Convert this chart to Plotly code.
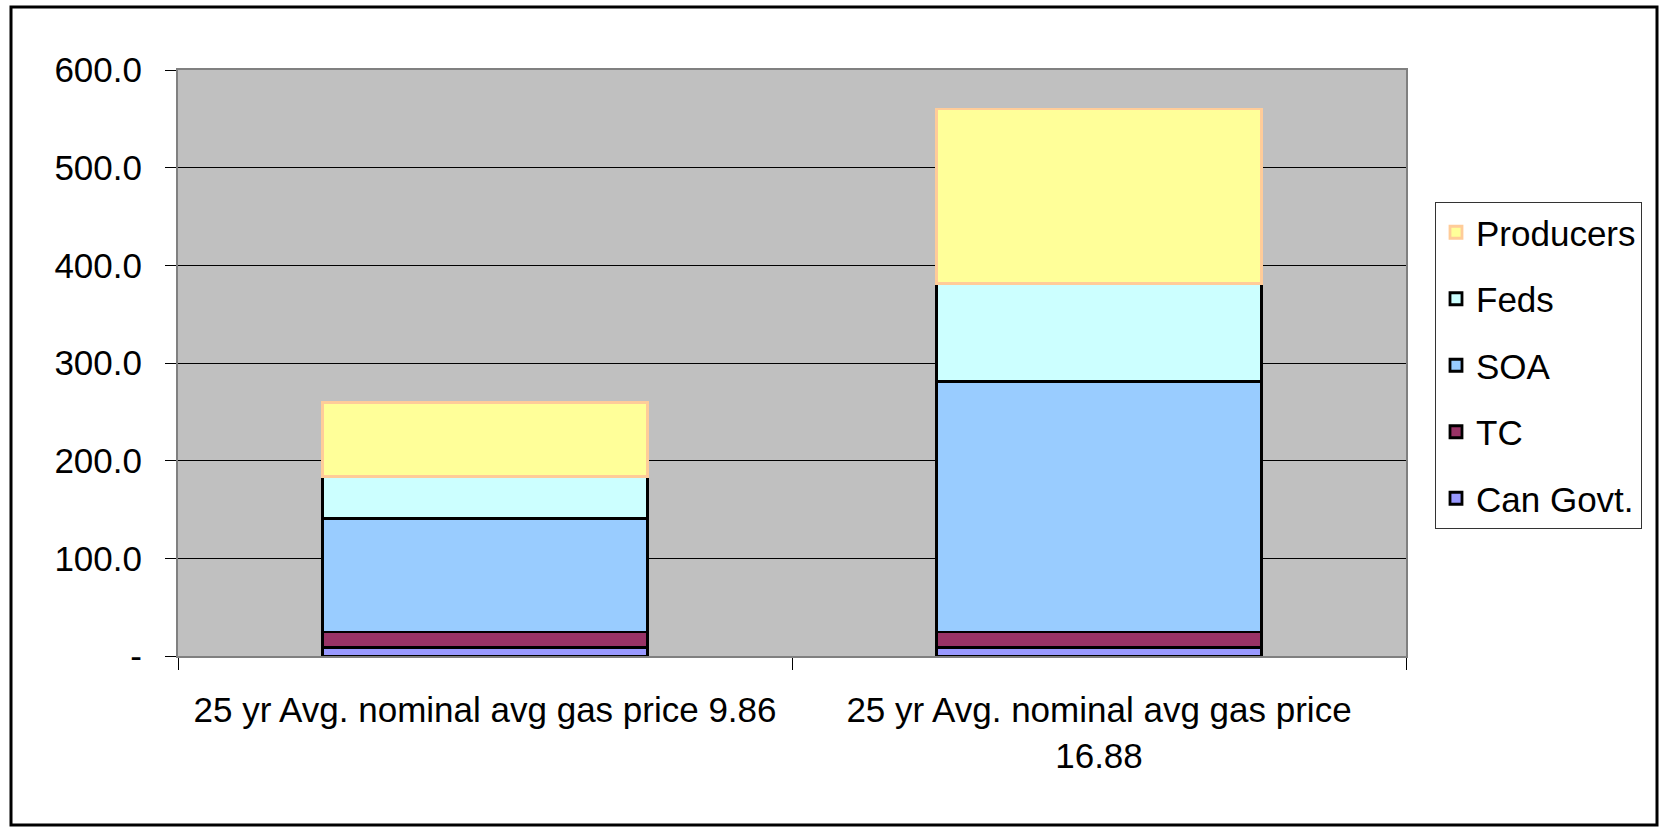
import plotly.graph_objects as go

categories = ["25 yr Avg. nominal avg gas price 9.86", "25 yr Avg. nominal avg gas price<br>16.88"]
can_govt = [8.5, 8.5]
tc = [16.0, 16.0]
soa = [116.0, 256.5]
feds = [43.5, 100.5]
producers = [75.5, 178.5]

series_names = ["Can Govt.", "TC", "SOA", "Feds", "Producers"]
series_values = [can_govt, tc, soa, feds, producers]
fill_colors = ["#9999FF", "#993366", "#99CCFF", "#CCFFFF", "#FFFF99"]
line_colors = ["#000000", "#000000", "#000000", "#000000", "#FFCC99"]

tick_vals = [0, 100, 200, 300, 400, 500, 600]
tick_text = ["-", "100.0", "200.0", "300.0", "400.0", "500.0", "600.0"]

FONT = "Liberation Sans, Arial, sans-serif"
FS = 35

W, H = 1664, 832
ML, MR, MT, MB = 178, 258, 70, 176
PW, PH = W - ML - MR, H - MT - MB

fig = go.Figure()
n = len(series_names)
for i, (name, vals, fc, lc) in enumerate(zip(series_names, series_values, fill_colors, line_colors)):
    fig.add_trace(go.Bar(
        x=categories, y=vals, name=name, legendgroup=name,
        legendrank=n - i,
        marker=dict(color=fc, line=dict(color=lc, width=2.8)),
        width=0.53,
    ))

def px_x(p):
    return (p - ML) / PW

def px_y(p):
    return (H - MB - p) / PH

fig.update_layout(
    width=W, height=H,
    barmode="stack",
    paper_bgcolor="white",
    plot_bgcolor="#C0C0C0",
    margin=dict(l=ML, r=MR, t=MT, b=MB, pad=0, autoexpand=False),
    font=dict(family=FONT, size=FS, color="black"),
    showlegend=True,
    legend=dict(
        x=px_x(1435), y=px_y(202), xanchor="left", yanchor="top",
        bgcolor="white", bordercolor="#333333", borderwidth=1,
        traceorder="grouped", tracegroupgap=18,
        font=dict(family=FONT, size=FS, color="black"),
    ),
    xaxis=dict(
        type="category", automargin=False, tickangle=0,
        showline=True, linecolor="#808080", linewidth=2, mirror=True,
        ticks="outside", tickson="boundaries", ticklen=12, tickcolor="black",
        showgrid=False,
        ticklabelstandoff=22,
        tickfont=dict(family=FONT, size=FS, color="black"),
    ),
    yaxis=dict(
        range=[0, 600], automargin=False,
        tickvals=tick_vals, ticktext=tick_text,
        showline=True, linecolor="#808080", linewidth=2, mirror=True,
        ticks="outside", ticklen=11, tickcolor="black",
        showgrid=True, gridcolor="black", gridwidth=1,
        zeroline=False,
        ticklabelstandoff=16,
        tickfont=dict(family=FONT, size=FS, color="black"),
    ),
    shapes=[dict(
        type="rect", xref="paper", yref="paper",
        x0=px_x(11), x1=px_x(1657), y0=px_y(825), y1=px_y(7),
        line=dict(color="black", width=3), fillcolor="rgba(0,0,0,0)", layer="above",
    )],
)

fig.write_html(
    "out.html",
    config={"displayModeBar": False},
    post_script="document.body.style.margin='0';document.body.style.overflow='hidden';",
)
